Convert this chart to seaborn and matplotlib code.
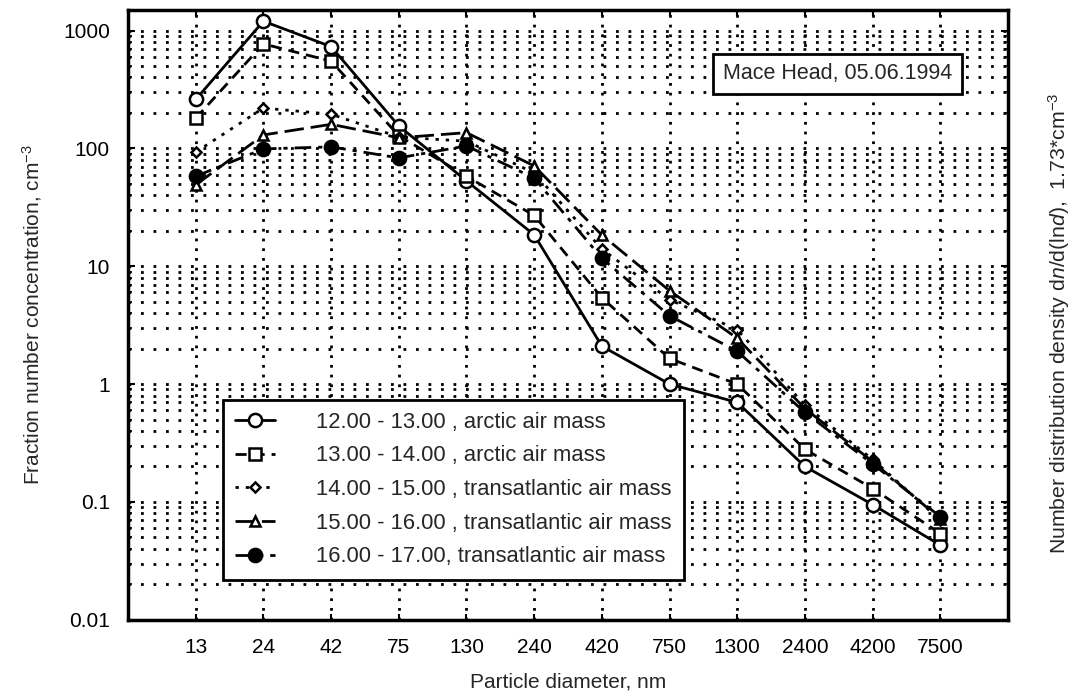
import numpy as np
import seaborn as sns
import matplotlib.pyplot as plt
from matplotlib.ticker import LogLocator, FuncFormatter, NullFormatter

# data
diam = ['13', '24', '42', '75', '130', '240', '420', '750', '1300', '2400', '4200', '7500']
s1 = [260, 1200, 730, 155, 53, 18.5, 2.1, 1.0, 0.70, 0.20, 0.095, 0.043]
s2 = [180, 770, 550, 128, 58, 27, 5.4, 1.65, 1.0, 0.28, 0.13, 0.054]
s3 = [93, 220, 195, 125, 115, 62, 14, 5.2, 2.9, 0.66, 0.23, 0.07]
s4 = [49, 130, 160, 123, 136, 71, 18.4, 6.2, 2.45, 0.62, 0.22, 0.072]
s5 = [58, 99, 103, 83, 105, 56, 11.7, 3.8, 1.9, 0.575, 0.21, 0.075]
labels = ['12.00 - 13.00 , arctic air mass',
          '13.00 - 14.00 , arctic air mass',
          '14.00 - 15.00 , transatlantic air mass',
          '15.00 - 16.00 , transatlantic air mass',
          '16.00 - 17.00, transatlantic air mass']

sns.set_style("white")
plt.rcParams['font.family'] = ['Liberation Sans', 'DejaVu Sans']
plt.rcParams['mathtext.fontset'] = 'custom'
plt.rcParams['mathtext.rm'] = 'Liberation Sans'
plt.rcParams['mathtext.it'] = 'Liberation Sans:italic'

FS = 15

fig = plt.figure(figsize=(10.85, 6.98), dpi=100)
ax = fig.add_axes([0.118, 0.112, 0.811, 0.874])

x = np.arange(len(diam))
styles = [
    dict(marker='o', ls='-', mfc='white', ms=9.5),
    dict(marker='s', ls=(0, (4, 2.5)), mfc='white', ms=9),
    dict(marker='D', ls=(0, (1.2, 2.5)), mfc='white', ms=5.5),
    dict(marker='^', ls=(0, (7, 2.5)), mfc='white', ms=7.5),
    dict(marker='o', ls=(0, (6, 2.5, 1.5, 2.5)), mfc='black', ms=9.5),
]
for vals, lab, st in zip([s1, s2, s3, s4, s5], labels, styles):
    sns.lineplot(x=x, y=vals, ax=ax, color='black', lw=2, label=lab,
                 marker=st['marker'], linestyle=st['ls'], markersize=st['ms'],
                 markerfacecolor=st['mfc'], markeredgecolor='black',
                 markeredgewidth=1.8, sort=False)

ax.set_yscale('log')
ax.set_ylim(0.01, 1500)
ax.set_xlim(-1, 12)
ax.set_xticks(x)
ax.set_xticklabels(diam)
ax.yaxis.set_major_locator(LogLocator(base=10, numticks=10))
ax.yaxis.set_minor_locator(LogLocator(base=10, subs=np.arange(2, 10), numticks=20))
ax.yaxis.set_major_formatter(FuncFormatter(lambda v, p: '%g' % v))
ax.yaxis.set_minor_formatter(NullFormatter())

ax.grid(axis='y', which='both', color='black', lw=2.0, ls=(0, (1, 3.5)))
ax.grid(axis='x', which='major', color='black', lw=2.0, ls=(0, (1, 2.5)))

for sp in ax.spines.values():
    sp.set_linewidth(2.5)
    sp.set_color('black')
ax.tick_params(axis='both', which='both', direction='in', colors='black',
               labelsize=FS, top=True, right=True, left=True, bottom=True)
ax.tick_params(axis='y', which='major', length=5, width=1.5, pad=13)
ax.tick_params(axis='y', which='minor', length=3, width=1.2)
ax.tick_params(axis='x', which='major', length=4, width=1.5, pad=13)

ax.set_xlabel('Particle diameter, nm', fontsize=FS, labelpad=11)
ax.set_ylabel('Fraction number concentration, cm$^{-3}$', fontsize=FS, labelpad=14)
fig.text(0.976, 0.537, r'Number distribution density d$\it{n}$/d(ln$\it{d}$),  1.73*cm$^{-3}$',
         rotation=90, ha='center', va='center', fontsize=15.3)

ax.text(0.806, 0.895, 'Mace Head, 05.06.1994', transform=ax.transAxes,
        ha='center', va='center', fontsize=15.5,
        bbox=dict(boxstyle='square,pad=0.45', fc='white', ec='black', lw=2))

leg = ax.legend(loc='lower left', bbox_to_anchor=(0.108, 0.066), fontsize=15.8,
                frameon=True, fancybox=False, edgecolor='black', framealpha=1,
                handlelength=1.8, handletextpad=1.9, labelspacing=0.58,
                borderpad=0.55, borderaxespad=0)
leg.get_frame().set_linewidth(2)

fig.savefig('out.png', dpi=100)
